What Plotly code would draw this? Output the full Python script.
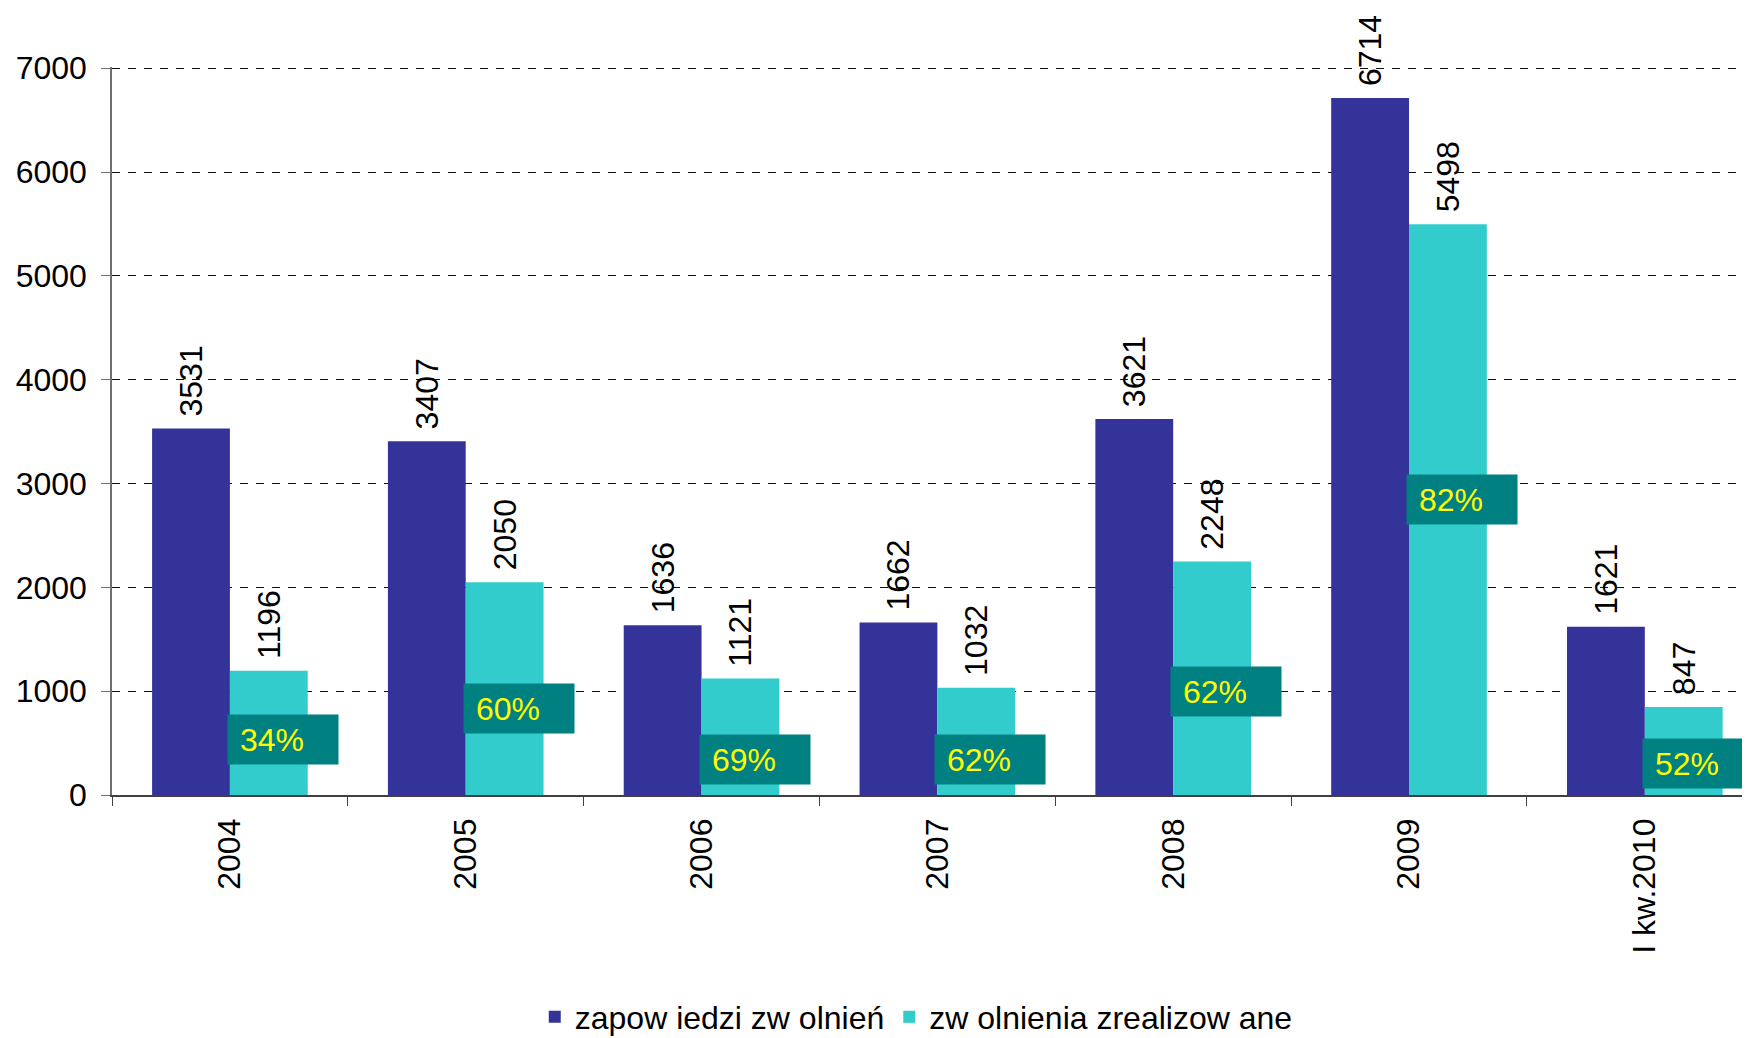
import plotly.graph_objects as go

categories = ["2004", "2005", "2006", "2007", "2008", "2009", "I kw.2010"]
zapowiedzi = [3531, 3407, 1636, 1662, 3621, 6714, 1621]
zrealizowane = [1196, 2050, 1121, 1032, 2248, 5498, 847]

# share of announced lay-offs that were carried out
pct = [round(100 * r / z) for r, z in zip(zrealizowane, zapowiedzi)]
# vertical placement of the percentage boxes (axis units)
pct_label_y = [530, 832, 346, 346, 1000, 2851, 305]

FONT = "Liberation Sans, Arial, sans-serif"
DARK = "#333399"
CYAN = "#33CCCC"

fig = go.Figure()
fig.add_trace(go.Bar(
    x=categories,
    y=zapowiedzi,
    name="zapow iedzi zw olnień",
    marker=dict(color=DARK, line=dict(width=0)),
    texttemplate="\u00a0%{y}",
    textposition="outside",
    textangle=-90,
    constraintext="none",
    cliponaxis=False,
    textfont=dict(family=FONT, size=32, color="black"),
))
fig.add_trace(go.Bar(
    x=categories,
    y=zrealizowane,
    name="zw olnienia zrealizow ane",
    marker=dict(color=CYAN, line=dict(width=0)),
    texttemplate="\u00a0%{y}",
    textposition="outside",
    textangle=-90,
    constraintext="none",
    cliponaxis=False,
    textfont=dict(family=FONT, size=32, color="black"),
))

for i, (p, ly) in enumerate(zip(pct, pct_label_y)):
    fig.add_annotation(
        x=i, y=ly, xref="x", yref="y",
        text=f"\u00a0{p}%",
        showarrow=False,
        xanchor="left", yanchor="middle",
        xshift=-3,
        align="left",
        width=104, height=43,
        borderpad=3,
        bgcolor="#008080",
        font=dict(family=FONT, size=32, color="#FFFF00"),
    )

# page body adds an 8px offset, so the figure is sized to fit the window
fig.update_layout(
    width=1742,
    height=1030,
    margin=dict(l=104, r=0, t=59, b=243, autoexpand=False),
    plot_bgcolor="white",
    paper_bgcolor="white",
    barmode="group",
    bargap=0.34,
    bargroupgap=0,
    font=dict(family=FONT, color="black"),
    showlegend=True,
    legend=dict(
        orientation="h",
        x=0.491, xanchor="center",
        y=-0.305, yanchor="middle",
        font=dict(family=FONT, size=32, color="black"),
        itemwidth=30,
        tracegroupgap=0,
    ),
)

fig.update_xaxes(
    type="category",
    range=[-0.5, 6.446],
    tickangle=-90,
    tickfont=dict(family=FONT, size=32, color="black"),
    showline=True,
    linecolor="#404040",
    linewidth=1.5,
    ticks="outside",
    tickson="boundaries",
    ticklen=9,
    tickcolor="#404040",
    ticklabelstandoff=9,
    showgrid=False,
    automargin=False,
)
fig.update_yaxes(
    range=[0, 7012],
    tickvals=[0, 1000, 2000, 3000, 4000, 5000, 6000, 7000],
    tickfont=dict(family=FONT, size=32, color="black"),
    showline=True,
    linecolor="#707070",
    linewidth=1.5,
    ticks="outside",
    ticklen=9,
    tickcolor="#707070",
    showgrid=True,
    gridcolor="#111111",
    gridwidth=1,
    griddash="8px,8px",
    zeroline=False,
    ticklabelstandoff=8,
    automargin=False,
)

fig.write_html("out.html")
